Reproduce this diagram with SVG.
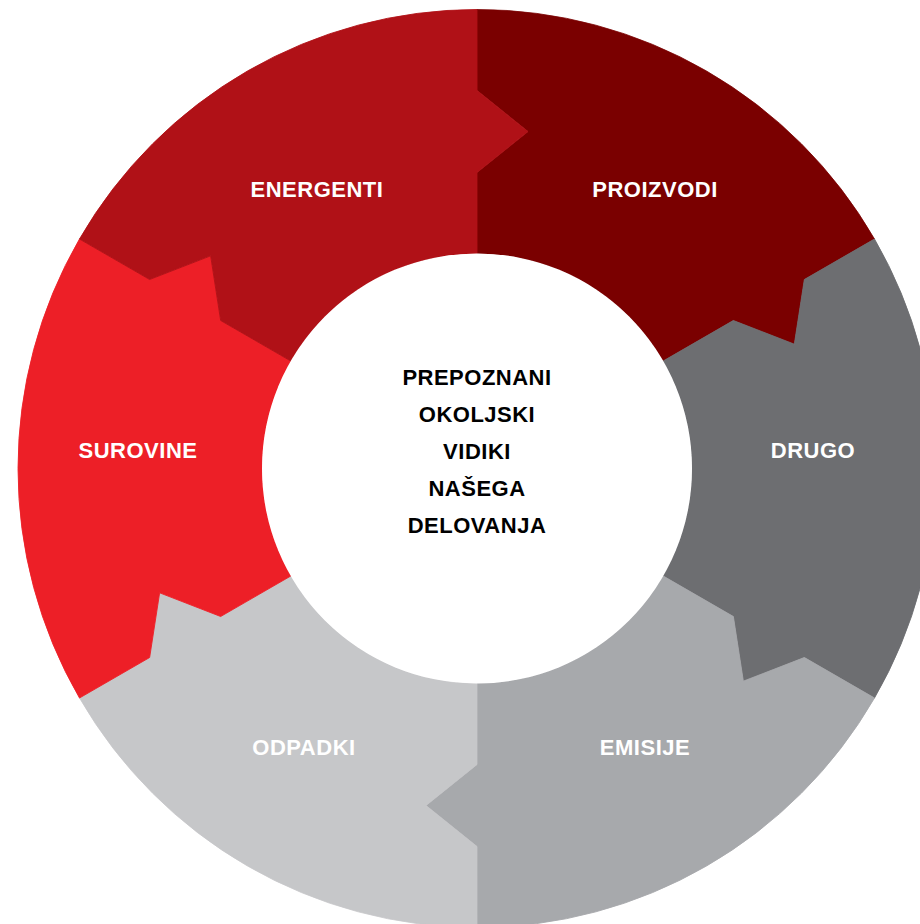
<svg xmlns="http://www.w3.org/2000/svg" xmlns:xlink="http://www.w3.org/1999/xlink" width="920" height="924" viewBox="0 0 920 924">
<style>
.lbl{font-family:"Liberation Sans",Arial,sans-serif;font-weight:bold;font-size:22px;letter-spacing:0.5px;fill:#ffffff;text-anchor:middle}
.ctr{font-family:"Liberation Sans",Arial,sans-serif;font-weight:bold;font-size:22px;letter-spacing:0.5px;fill:#000000;text-anchor:middle}
</style>
<defs>
<path id="seg" d="M0,-459 A459,459 0 0 1 397.5,-229.5 L327.4,-189 L317.3,-124.3 L256.3,-148 L186.2,-107.5 A215,215 0 0 0 0,-215 L0,-296 L51,-337 L0,-378 Z"/>
</defs>
<rect width="920" height="924" fill="#ffffff"/>
<g id="segments" transform="translate(477,468.5)">
<g id="proizvodi"><use xlink:href="#seg" href="#seg" fill="#7a0000" stroke="#7a0000" stroke-width="0.8"/></g>
<g id="drugo"><use xlink:href="#seg" href="#seg" transform="rotate(60)" fill="#6d6e71" stroke="#6d6e71" stroke-width="0.8"/></g>
<g id="emisije"><use xlink:href="#seg" href="#seg" transform="rotate(120)" fill="#a7a9ac" stroke="#a7a9ac" stroke-width="0.8"/></g>
<g id="odpadki"><use xlink:href="#seg" href="#seg" transform="rotate(180)" fill="#c6c7c9" stroke="#c6c7c9" stroke-width="0.8"/></g>
<g id="surovine"><use xlink:href="#seg" href="#seg" transform="rotate(240)" fill="#ed1f27" stroke="#ed1f27" stroke-width="0.8"/></g>
<g id="energenti"><use xlink:href="#seg" href="#seg" transform="rotate(300)" fill="#b01117" stroke="#b01117" stroke-width="0.8"/></g>
</g>
<g id="center">
<circle cx="477" cy="468.5" r="215" fill="#ffffff"/>
<text class="ctr" x="477" y="385">PREPOZNANI</text>
<text class="ctr" x="477" y="422">OKOLJSKI</text>
<text class="ctr" x="477" y="459">VIDIKI</text>
<text class="ctr" x="477" y="496">NAŠEGA</text>
<text class="ctr" x="477" y="533">DELOVANJA</text>
</g>
<g id="labels">
<text class="lbl" x="655" y="197">PROIZVODI</text>
<text class="lbl" x="317" y="197">ENERGENTI</text>
<text class="lbl" x="138" y="458">SUROVINE</text>
<text class="lbl" x="813" y="458">DRUGO</text>
<text class="lbl" x="645" y="755">EMISIJE</text>
<text class="lbl" x="304" y="755">ODPADKI</text>
</g>
</svg>
